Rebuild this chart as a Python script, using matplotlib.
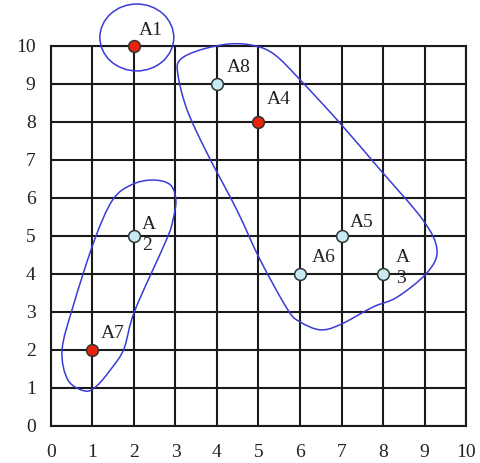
import numpy as np
import matplotlib
matplotlib.use("Agg")
import matplotlib.pyplot as plt
from matplotlib.path import Path
from matplotlib.patches import PathPatch, Ellipse

# points
names = ['A1', 'A2', 'A3', 'A4', 'A5', 'A6', 'A7', 'A8']
xs = [2, 2, 8, 5, 7, 6, 1, 4]
ys = [10, 5, 4, 8, 5, 4, 2, 9]
is_center = [True, False, False, True, False, False, True, False]
label_text = ['A1', 'A\n2', 'A\n3', 'A4', 'A5', 'A6', 'A7', 'A8']
label_off = [(5, 15), (8, 1), (13, 6), (8, 22), (8, 13), (12, 16), (8, 16), (10, 16)]

# cluster outlines
c1_center = (2.07, 10.22)
c1_size = (1.78, 1.76)

c2_x = [1.05, 1.49, 1.95, 2.45, 2.87, 3.01, 2.94, 2.78, 2.02, 1.76, 1.45, 1.10, 0.82, 0.41, 0.27, 0.53]
c2_y = [4.89, 5.95, 6.35, 6.47, 6.35, 5.95, 5.42, 4.89, 3.03, 2.03, 1.50, 1.05, 0.92, 1.21, 2.00, 3.13]

c3_x = [3.11, 3.59, 4.31, 4.92, 5.40, 6.00, 6.96, 7.93, 8.96, 9.30, 9.06, 8.34, 7.76, 6.96,
        6.48, 6.00, 5.71, 5.04, 4.48, 3.76, 3.28, 3.06]
c3_y = [9.63, 9.89, 10.05, 10.00, 9.76, 9.11, 7.97, 6.74, 5.42, 4.63, 4.03, 3.39, 3.13, 2.66,
        2.53, 2.74, 3.05, 4.37, 5.68, 7.18, 8.32, 9.24]


def closed_curve(px, py):
    # catmull-rom -> cubic bezier, closed
    p = np.column_stack([px, py])
    n = len(p)
    verts = [p[0]]
    codes = [Path.MOVETO]
    for i in range(n):
        p0, p1, p2, p3 = p[i - 1], p[i], p[(i + 1) % n], p[(i + 2) % n]
        verts += [p1 + (p2 - p0) / 6, p2 - (p3 - p1) / 6, p2]
        codes += [Path.CURVE4] * 3
    return Path(verts, codes)


plt.rcParams['font.family'] = ['Liberation Serif', 'DejaVu Serif']

fig = plt.figure(figsize=(4.8, 4.63), dpi=100)
ax = fig.add_axes([0.106, 0.080, 0.865, 0.821])
ax.set_xlim(0, 10)
ax.set_ylim(0, 10)
ax.set_xticks(range(11))
ax.set_yticks(range(11))
ax.tick_params(length=0, labelsize=14, colors='#222222', pad=13)
ax.tick_params(axis='y', pad=11)
ax.grid(True, color='#1a1a1a', linewidth=1.5)
for s in ax.spines.values():
    s.set_color('#1a1a1a')
    s.set_linewidth(1.5)
ax.set_axisbelow(True)

blue = '#3a3ad8'
ax.add_patch(Ellipse(c1_center, c1_size[0], c1_size[1], fill=False, edgecolor=blue,
                     linewidth=1.1, clip_on=False, zorder=3))
ax.add_patch(PathPatch(closed_curve(c2_x, c2_y), fill=False, edgecolor=blue,
                       linewidth=1.1, clip_on=False, zorder=3))
ax.add_patch(PathPatch(closed_curve(c3_x, c3_y), fill=False, edgecolor=blue,
                       linewidth=1.1, clip_on=False, zorder=3))

for x, y, c, t, off in zip(xs, ys, is_center, label_text, label_off):
    ax.plot(x, y, 'o', markersize=8.5, markerfacecolor='#e8240c' if c else '#c6eaf4',
            markeredgecolor='#333333', markeredgewidth=1.1, clip_on=False, zorder=5)
    ax.annotate(t, (x, y), xytext=off, textcoords='offset pixels', fontsize=14,
                ha='left', va='center', color='#222222', linespacing=1.25,
                annotation_clip=False, zorder=6)

fig.savefig('out.png', dpi=100)
